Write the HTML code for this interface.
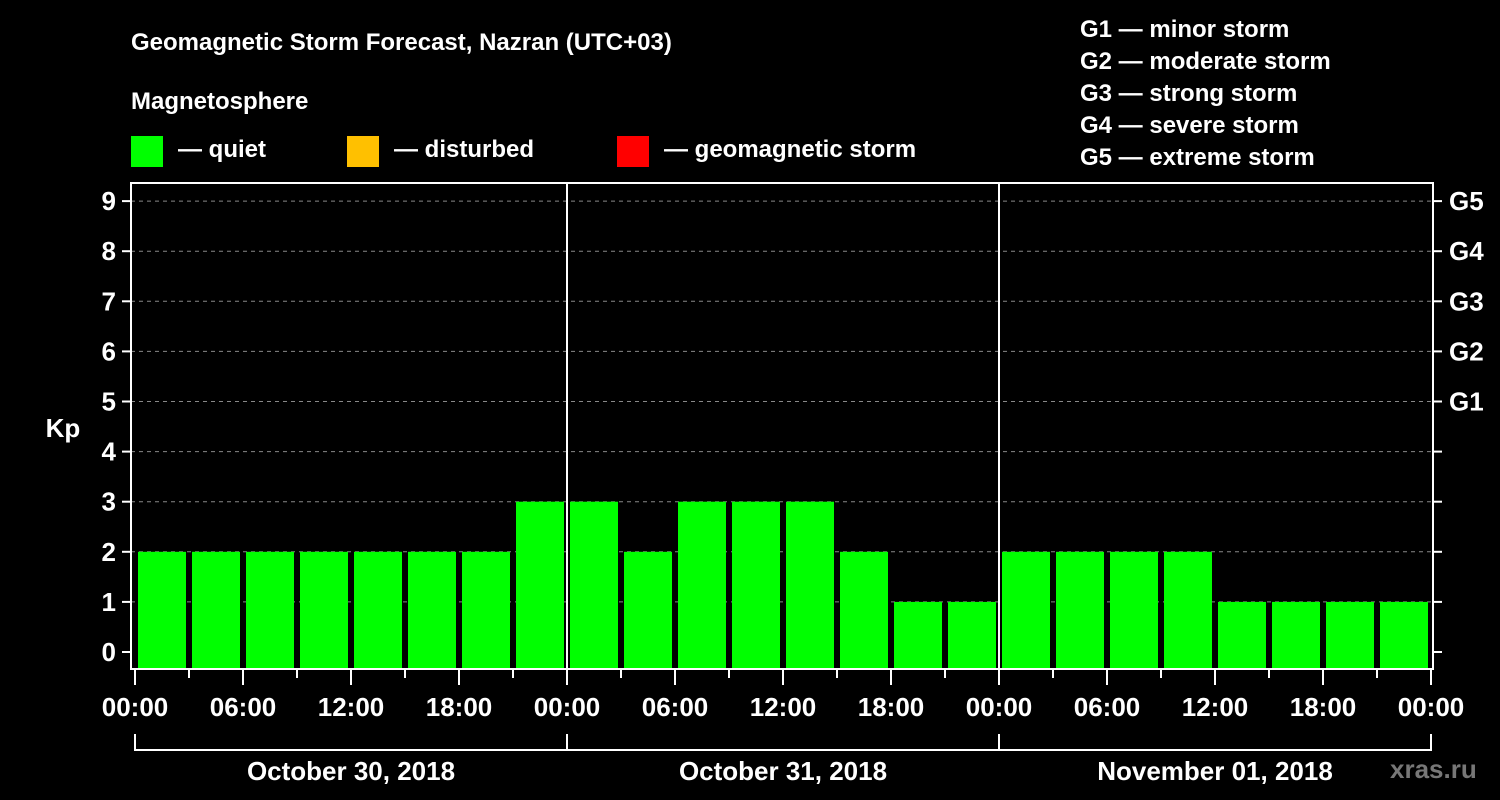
<!DOCTYPE html>
<html><head><meta charset="utf-8"><style>
html,body{margin:0;padding:0;background:#000;}
svg{display:block;font-family:"Liberation Sans",Arial,sans-serif;font-weight:bold;}
</style></head><body>
<svg id="c" width="1500" height="800" xmlns="http://www.w3.org/2000/svg">
<text x="131" y="50" fill="#fff" font-size="24">Geomagnetic Storm Forecast, Nazran (UTC+03)</text>
<text x="131" y="109" fill="#fff" font-size="24">Magnetosphere</text>
<g><rect x="131" y="136" width="32" height="31" fill="#00ff00"/><text x="178" y="157" fill="#fff" font-size="24">— quiet</text></g>
<g><rect x="347" y="136" width="32" height="31" fill="#ffc000"/><text x="394" y="157" fill="#fff" font-size="24">— disturbed</text></g>
<g><rect x="617" y="136" width="32" height="31" fill="#ff0000"/><text x="664" y="157" fill="#fff" font-size="24">— geomagnetic storm</text></g>
<g fill="#fff" font-size="24">
<text x="1080" y="37">G1 — minor storm</text>
<text x="1080" y="69">G2 — moderate storm</text>
<text x="1080" y="101">G3 — strong storm</text>
<text x="1080" y="133">G4 — severe storm</text>
<text x="1080" y="165">G5 — extreme storm</text>
</g>
<text x="63" y="437" fill="#fff" font-size="26" text-anchor="middle">Kp</text>
<text x="1390" y="778" fill="#777" font-size="26">xras.ru</text>
<g id="plot"></g>
</svg>
<script>
const kpValues = [2,2,2,2,2,2,2,3, 3,2,3,3,3,2,1,1, 2,2,2,2,1,1,1,1];
const yTicks = [0,1,2,3,4,5,6,7,8,9];
const gLabels = ["G1","G2","G3","G4","G5"];
const gLevels = [5,6,7,8,9];
const hourLabels = ["00:00","06:00","12:00","18:00"];
const dayLabels = ["October 30, 2018","October 31, 2018","November 01, 2018"];

const NS="http://www.w3.org/2000/svg";
const g=document.getElementById('plot');
const L=131,R=1433,T=183,B=669,X0=135,DAY=432;
const y=v=>652-v*50.1;
const x=slot=>X0+slot*DAY/8;
function mk(t,a){const e=document.createElementNS(NS,t);for(const k in a)e.setAttribute(k,a[k]);g.appendChild(e);return e;}
yTicks.forEach(v=>{
  if(v>0){const l=mk('line',{x1:L,x2:R,y1:y(v),y2:y(v),stroke:'#888','stroke-dasharray':'4,4','stroke-width':1});
  
  }
  mk('line',{x1:122,x2:L,y1:y(v),y2:y(v),stroke:'#fff','stroke-width':2});
  mk('line',{x1:R,x2:1442,y1:y(v),y2:y(v),stroke:'#fff','stroke-width':2});
  const t=mk('text',{x:116,y:y(v)+9,fill:'#fff','font-size':26,'text-anchor':'end'});t.textContent=v;
  
  
});
gLabels.forEach((s,i)=>{const t=mk('text',{x:1449,y:y(gLevels[i])+9,fill:'#fff','font-size':26});t.textContent=s;
  
  });
kpValues.forEach((v,i)=>{
  const r=mk('rect',{x:x(i)+3,y:y(v),width:DAY/8-6,height:668-y(v),fill:'#00ff00'});
  
  
});
mk('rect',{x:L,y:T,width:R-L,height:B-T,fill:'none',stroke:'#fff','stroke-width':2});
for(let d=1;d<3;d++)mk('line',{x1:X0+d*DAY,x2:X0+d*DAY,y1:T,y2:B,stroke:'#fff','stroke-width':2});
for(let s=0;s<=24;s++){
  const major=s%2===0;
  mk('line',{x1:x(s),x2:x(s),y1:B,y2:major?685:678,stroke:'#fff','stroke-width':2});
  if(major){const t=mk('text',{x:x(s),y:716,fill:'#fff','font-size':26,'text-anchor':'middle'});t.textContent=hourLabels[(s/2)%4];
    
    }
}
dayLabels.forEach((s,d)=>{
  mk('path',{d:`M${X0+d*DAY},734V750H${X0+(d+1)*DAY}V734`,fill:'none',stroke:'#fff','stroke-width':2});
  const t=mk('text',{x:X0+d*DAY+DAY/2,y:780,fill:'#fff','font-size':26,'text-anchor':'middle'});t.textContent=s;
  
  
});
</script>
</body></html>
